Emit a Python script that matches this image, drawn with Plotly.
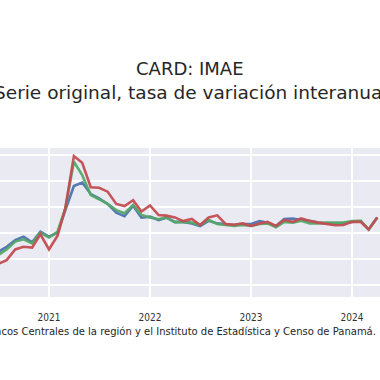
import plotly.graph_objects as go
import pandas as pd

dates = pd.date_range("2020-07-01", "2024-04-01", freq="MS").strftime("%Y-%m-%d").tolist()

blue = [-7.2, -5.3, -2.7, -1.4, -3.6, 0.5, -1.4, 0.1, 8.8, 18.1, 19.4, 15.0, 13.3, 11.2, 7.8, 6.5, 10.5, 5.9,
        6.3, 5.0, 5.9, 4.3, 4.3, 3.7, 2.7, 4.7, 3.7, 3.5, 3.1, 3.5, 3.5, 4.6, 4.0, 2.7, 5.4, 5.6, 5.0, 4.7,
        4.0, 3.7, 3.5, 3.7, 4.3, 4.6, 1.4, 6.0]
green = [-8.5, -6.3, -3.3, -2.4, -4.0, 0.1, -1.7, 0.5, 9.5, 27.4, 22.3, 14.6, 13.0, 11.2, 8.8, 7.6, 10.8, 6.9,
         6.0, 5.3, 6.0, 4.1, 4.3, 4.0, 3.1, 5.0, 3.5, 3.1, 2.7, 3.1, 2.7, 3.5, 3.7, 2.2, 4.3, 4.0, 4.7, 3.7,
         3.7, 4.0, 4.0, 4.0, 4.6, 4.7, 1.4, 6.0]
red = [-11.9, -10.4, -6.3, -5.3, -5.6, -0.5, -6.3, -1.0, 9.5, 29.6, 27.0, 17.6, 17.4, 15.9, 11.2, 10.4, 12.6, 8.3,
       10.6, 6.9, 6.7, 6.0, 4.6, 5.4, 3.1, 6.0, 6.8, 3.5, 3.2, 3.7, 2.7, 3.7, 4.3, 2.7, 5.0, 4.3, 5.6, 4.6,
       4.0, 3.5, 3.0, 3.1, 4.3, 4.3, 1.4, 6.0]

series = [("Serie 1", blue, "#4C72B0"), ("Serie 2", green, "#55A868"), ("Serie 3", red, "#C44E52")]
year_ticks = ["2021-01-01", "2022-01-01", "2023-01-01", "2024-01-01"]
year_labels = ["2021", "2022", "2023", "2024"]
y_ticks = [-20, -10, 0, 10, 20, 30]

T, B = 148, 83
plot_h = 380 - T - B


def py(pix):
    return (380 - B - pix) / plot_h


fig = go.Figure()
for name, vals, col in series:
    fig.add_trace(go.Scatter(x=dates, y=vals, mode="lines", name=name,
                             line=dict(color=col, width=2.6), opacity=0.95))

TXT = "DejaVu Sans, Verdana, sans-serif"
fig.update_layout(
    width=380, height=380,
    margin=dict(l=0, r=0, t=T, b=B),
    paper_bgcolor="white", plot_bgcolor="#EAEAF2",
    showlegend=False,
    font=dict(family=TXT, color="#262626"),
    xaxis=dict(range=["2020-07-08", "2024-04-11"], tickvals=year_ticks, ticktext=year_labels,
               showgrid=True, gridcolor="white", gridwidth=1.5, zeroline=False,
               ticks="outside", ticklen=11, tickcolor="white",
               tickfont=dict(family="Liberation Sans Narrow, DejaVu Sans Condensed, sans-serif", size=10, color="#333333")),
    yaxis=dict(range=[-24.6, 32.7], tickvals=y_ticks, showticklabels=False,
               showgrid=True, gridcolor="white", gridwidth=1.5, zeroline=False),
    annotations=[
        dict(text="CARD: IMAE", x=0.5, y=py(68), xref="paper", yref="paper", yanchor="middle",
             showarrow=False, font=dict(family=TXT, size=18, color="#262626")),
        dict(text="Serie original, tasa de variación interanual", x=0.5, y=py(92), xref="paper", yref="paper",
             yanchor="middle", showarrow=False, font=dict(family=TXT, size=18.5, color="#262626")),
        dict(text="Fuente: elaboración propia con datos de los Bancos Centrales de la región y el Instituto de Estadística y Censo de Panamá.",
             x=378 / 380, y=py(331), xref="paper", yref="paper", xanchor="right", yanchor="middle",
             showarrow=False, font=dict(family=TXT, size=10, color="#262626")),
    ],
)

fig.write_html("out.html", config={"displayModeBar": False},
               post_script="document.body.style.margin='0';document.body.style.overflow='hidden';")
